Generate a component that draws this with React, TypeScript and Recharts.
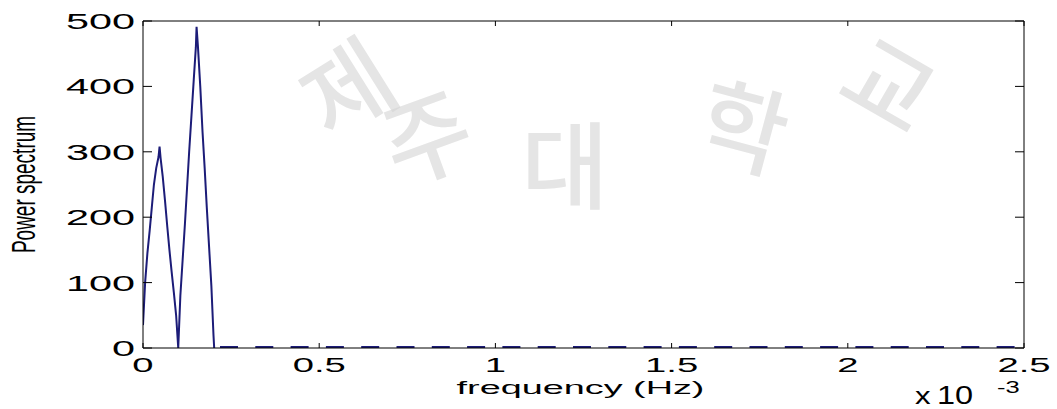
import React from 'react';
import { LineChart, Line, XAxis, YAxis } from 'recharts';

// frequency in units of 1e-3 Hz
const peakFreq = [0, 0.006, 0.0125, 0.019, 0.025, 0.031, 0.0375, 0.044, 0.047, 0.05, 0.056, 0.0625, 0.069, 0.075, 0.081, 0.0875, 0.094, 0.1, 0.106, 0.1125, 0.119, 0.125, 0.131, 0.1375, 0.144, 0.15, 0.152, 0.156, 0.1625, 0.169, 0.175, 0.181, 0.1875, 0.194, 0.2, 0.202];
const peakPower = [35, 100, 145, 180, 215, 250, 275, 292, 308, 290, 262, 225, 185, 150, 118, 85, 50, 0, 80, 135, 190, 245, 300, 355, 410, 460, 491, 460, 400, 330, 275, 215, 155, 95, 20, 0];
const tailFreq = [0.2185, 2.5];
const tailPower = [1.5, 1.5];

const xTicks = [0, 0.5, 1, 1.5, 2, 2.5];
const xTickLabels = ['0', '0.5', '1', '1.5', '2', '2.5'];
const yTicks = [0, 100, 200, 300, 400, 500];
const yTickLabels = ['0', '100', '200', '300', '400', '500'];

const peakData = peakFreq.map((f, i) => ({ f, p: peakPower[i] }));
const tailData = tailFreq.map((f, i) => ({ f, p: tailPower[i] }));

const FONT = '"Liberation Sans", Arial, sans-serif';
const LINE_COLOR = '#1c1c78';

const XBottomTick = (props: any) => {
  const { x, y, payload } = props;
  const idx = xTicks.indexOf(payload.value);
  return (
    <g>
      <line x1={x} y1={y} x2={x} y2={y - 5} stroke="#000" strokeWidth={1} />
      <text transform={`translate(${x},${y + 24}) scale(1.82,1)`} textAnchor="middle" fontSize={21} fontFamily={FONT} fill="#000">
        {idx >= 0 ? xTickLabels[idx] : String(payload.value)}
      </text>
    </g>
  );
};

const XTopTick = (props: any) => {
  const { x, y } = props;
  return <line x1={x} y1={y} x2={x} y2={y + 5} stroke="#000" strokeWidth={1} />;
};

const YLeftTick = (props: any) => {
  const { x, y, payload } = props;
  const idx = yTicks.indexOf(payload.value);
  return (
    <g>
      <line x1={x} y1={y} x2={x + 9} y2={y} stroke="#000" strokeWidth={1} />
      <text transform={`translate(${x - 8},${y + 8}) scale(1.88,1)`} textAnchor="end" fontSize={22} fontFamily={FONT} fill="#000">
        {idx >= 0 ? yTickLabels[idx] : String(payload.value)}
      </text>
    </g>
  );
};

const YRightTick = (props: any) => {
  const { x, y } = props;
  return <line x1={x} y1={y} x2={x - 9} y2={y} stroke="#000" strokeWidth={1} />;
};

const watermark = [
  { ch: '제', x: 345, y: 84, r: -32 },
  { ch: '주', x: 425, y: 132, r: -20 },
  { ch: '대', x: 565, y: 160, r: 0 },
  { ch: '학', x: 745, y: 122, r: 15 },
  { ch: '교', x: 892, y: 80, r: 30 },
];

export default function App() {
  return (
    <div style={{ position: 'absolute', left: 0, top: 0, width: 1057, height: 409, background: '#fff' }}>
      <svg width={1057} height={409} style={{ position: 'absolute', left: 0, top: 0 }}>
        {watermark.map((w, i) => (
          <text
            key={i}
            transform={`translate(${w.x},${w.y}) rotate(${w.r})`}
            textAnchor="middle"
            dominantBaseline="central"
            fontSize={95}
            fontWeight={500}
            fontFamily='"Noto Sans CJK KR", sans-serif'
            fill="#d4d4d4"
            opacity={0.6}
          >
            {w.ch}
          </text>
        ))}
      </svg>
      <div style={{ position: 'absolute', left: 0, top: 0 }}>
        <LineChart width={1057} height={409} margin={{ top: 20, right: 32, bottom: 60, left: 142 }}>
          <XAxis
            xAxisId="b"
            type="number"
            dataKey="f"
            domain={[0, 2.5]}
            ticks={xTicks}
            interval={0}
            allowDataOverflow
            height={1}
            tickSize={0}
            tickMargin={0}
            tickLine={false}
            axisLine={{ stroke: '#000', strokeWidth: 1 }}
            tick={XBottomTick}
          />
          <XAxis
            xAxisId="t"
            orientation="top"
            type="number"
            dataKey="f"
            domain={[0, 2.5]}
            ticks={xTicks}
            interval={0}
            allowDataOverflow
            height={1}
            tickSize={0}
            tickMargin={0}
            tickLine={false}
            axisLine={{ stroke: '#000', strokeWidth: 1 }}
            tick={XTopTick}
          />
          <YAxis
            yAxisId="l"
            type="number"
            domain={[0, 500]}
            ticks={yTicks}
            interval={0}
            allowDataOverflow
            width={1}
            tickSize={0}
            tickMargin={0}
            tickLine={false}
            axisLine={{ stroke: '#000', strokeWidth: 1 }}
            tick={YLeftTick}
          />
          <YAxis
            yAxisId="r"
            orientation="right"
            type="number"
            domain={[0, 500]}
            ticks={yTicks}
            interval={0}
            allowDataOverflow
            width={1}
            tickSize={0}
            tickMargin={0}
            tickLine={false}
            axisLine={{ stroke: '#000', strokeWidth: 1 }}
            tick={YRightTick}
          />
          <Line
            xAxisId="b"
            yAxisId="l"
            data={peakData}
            dataKey="p"
            type="linear"
            stroke={LINE_COLOR}
            strokeWidth={2}
            dot={false}
            activeDot={false}
            isAnimationActive={false}
          />
          <Line
            xAxisId="b"
            yAxisId="l"
            data={tailData}
            dataKey="p"
            type="linear"
            stroke={LINE_COLOR}
            strokeWidth={2}
            strokeDasharray="18 17.3"
            dot={false}
            activeDot={false}
            isAnimationActive={false}
          />
        </LineChart>
      </div>
      <svg width={1057} height={409} style={{ position: 'absolute', left: 0, top: 0, pointerEvents: 'none' }}>
        <text transform={`translate(35,184.5) scale(1.75,1) rotate(-90)`} textAnchor="middle" fontSize={19} fontFamily={FONT} fill="#000">
          Power spectrum
        </text>
        <text transform={`translate(580.5,394) scale(1.99,1)`} textAnchor="middle" fontSize={19} fontFamily={FONT} fill="#000">
          frequency (Hz)
        </text>
        <text transform={`translate(915,404) scale(1.3,1)`} fontSize={24} fontFamily={FONT} fill="#000">x</text>
        <text transform={`translate(937,404) scale(1.3,1)`} fontSize={25} fontFamily={FONT} fill="#000">10</text>
        <text transform={`translate(997,393) scale(1.5,1)`} fontSize={17} fontFamily={FONT} fill="#000">-3</text>
      </svg>
    </div>
  );
}
